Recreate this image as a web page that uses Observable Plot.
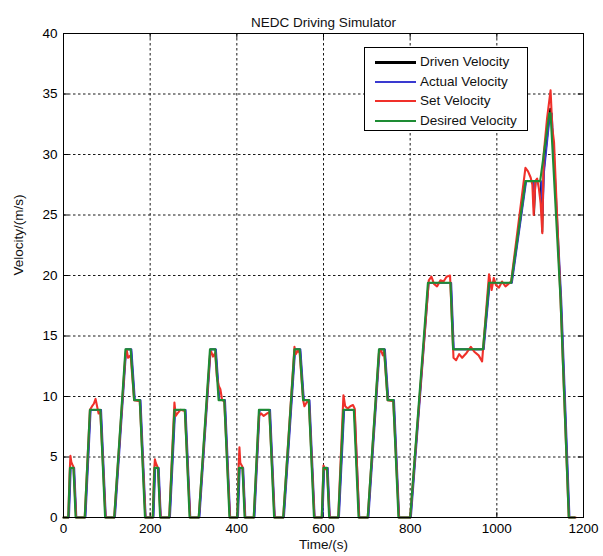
<!DOCTYPE html>
<html>
<head>
<meta charset="utf-8">
<script src="https://cdn.jsdelivr.net/npm/d3@7"></script>
<script src="https://cdn.jsdelivr.net/npm/@observablehq/plot@0.6"></script>
<style>
  body { margin: 0; background: #fff; }
  #wrap { position: relative; width: 603px; height: 556px; font-family: "Liberation Sans", Arial, sans-serif; }
  #legend { position: absolute; left: 364px; top: 47px; width: 162px; height: 82px; border: 1px solid #000; background: #fff; font-size: 13.5px; color: #111; }
  .row { position: absolute; left: 0; height: 19px; width: 100%; }
  .sw { position: absolute; left: 10px; width: 41px; top: 9px; }
  .lb { position: absolute; left: 55px; top: 1px; white-space: nowrap; line-height: 17px; }
</style>
</head>
<body>
<div id="wrap"></div>
<script>
const titleText = "NEDC Driving Simulator";
const xLabel = "Time/(s)";
const yLabel = "Velocity/(m/s)";
const xTicks = [0, 200, 400, 600, 800, 1000, 1200];
const yTicks = [0, 5, 10, 15, 20, 25, 30, 35, 40];
const seriesNames = ["Driven Velocity", "Actual Velocity", "Set Velocity", "Desired Velocity"];
const seriesColors = ["#000000", "#3a3ad0", "#f0302a", "#1e8c34"];

// Desired velocity (green)
const desiredT = [0,11,15,23,28,49,61,85,96,117,143,155,163,176,188,
  206,210,218,223,244,256,280,291,312,338,350,358,371,383,
  401,405,413,418,439,451,475,486,507,533,545,553,566,578,
  596,600,608,613,634,646,670,681,702,728,740,748,761,773,
  800,841,893,899,968,982,1033,1066,1100,1121,1124,1147,1166,1180];
const desiredV = [0,0,4.1,4.1,0,0,8.9,8.9,0,0,13.9,13.9,9.7,9.7,0,
  0,4.1,4.1,0,0,8.9,8.9,0,0,13.9,13.9,9.7,9.7,0,
  0,4.1,4.1,0,0,8.9,8.9,0,0,13.9,13.9,9.7,9.7,0,
  0,4.1,4.1,0,0,8.9,8.9,0,0,13.9,13.9,9.7,9.7,0,
  0,19.4,19.4,13.9,13.9,19.4,19.4,27.8,27.8,33.4,33.4,18.0,0,0];

// Set velocity (red)
const setT = [0,11,14,16,18,20,23,29,49,61,66,70,74,78,81,85,97,117,143,146,149,155,163,176,189,
  206,209,211,213,218,224,244,256,259,263,270,280,292,312,338,341,345,350,354,358,362,366,371,384,
  401,404,406,408,413,419,439,451,456,462,470,475,487,507,533,536,541,545,553,556,561,566,579,
  596,600,603,608,614,634,646,650,656,662,668,672,682,702,728,732,737,740,748,761,774,
  800,843,849,855,862,870,877,884,892,900,906,913,920,930,940,948,958,966,
  982,988,993,998,1005,1012,1020,1033,1066,1072,1078,1082,1085,1089,1093,1097,1101,1105,1108,1116,1124,1128,1132,1147,1166,1182];
const setV = [0,0,3.5,5.1,4.6,4.4,4.2,0,0,8.9,9.2,9.4,9.8,9.1,8.6,8.7,0,0,13.5,13.8,13.2,13.4,9.7,9.6,0,
  0,3.8,4.8,4.5,4.1,0,0,9.5,8.4,8.6,8.9,8.8,0,0,13.4,13.7,13.3,13.6,11.6,10.9,10.6,9.7,9.6,0,
  0,4.0,5.8,4.5,4.2,0,0,8.4,8.6,8.4,8.6,8.7,0,0,14.1,13.5,13.8,13.6,9.7,9.2,9.5,9.7,0,
  0,4.3,4.0,4.0,0,0,10.1,9.2,9.0,9.2,9.3,9.0,0,0,13.6,13.9,13.4,13.7,9.7,9.6,0,
  0,19.6,19.9,19.3,19.1,19.6,19.5,19.9,20.0,13.2,13.0,13.5,13.2,13.6,14.1,13.7,13.4,12.9,
  20.1,18.8,19.8,19.2,19.0,19.5,19.1,19.5,28.9,28.6,28.1,27.5,25.0,27.8,28.0,27.2,26.0,23.5,30.0,33.0,35.3,32.2,31.0,18.0,0,0];

// Actual velocity (blue)
const actualT = [0,13,17,25,30,51,63,87,98,119,145,157,165,178,190,
  208,212,220,225,246,258,282,293,314,340,352,360,373,385,
  403,407,415,420,441,453,477,488,509,535,547,555,568,580,
  598,602,610,615,636,648,672,683,704,730,742,750,763,775,
  802,843,895,901,970,984,1035,1068,1084,1087,1090,1102,1106,1109,1123,1127,1149,1168,1180];
const actualV = [0,0,4.1,4.1,0,0,8.9,8.9,0,0,13.9,13.9,9.7,9.7,0,
  0,4.1,4.1,0,0,8.9,8.9,0,0,13.9,13.9,9.7,9.7,0,
  0,4.1,4.1,0,0,8.9,8.9,0,0,13.9,13.9,9.7,9.7,0,
  0,4.1,4.1,0,0,8.9,8.9,0,0,13.9,13.9,9.7,9.7,0,
  0,19.4,19.4,13.9,13.9,19.4,19.4,27.8,27.8,26.3,27.8,27.8,25.2,28.5,33.4,33.4,18.0,0,0];

// Driven velocity (black)
const drivenT = [0,12,16,24,29,50,62,86,97,118,144,156,164,177,189,
  207,211,219,224,245,257,281,292,313,339,351,359,372,384,
  402,406,414,419,440,452,476,487,508,534,546,554,567,579,
  597,601,609,614,635,647,671,682,703,729,741,749,762,774,
  801,842,894,900,969,983,1034,1067,1083,1086,1089,1101,1105,1108,1123,1126,1148,1167,1180];
const drivenV = [0,0,4.1,4.1,0,0,8.9,8.9,0,0,13.9,13.9,9.7,9.7,0,
  0,4.1,4.1,0,0,8.9,8.9,0,0,13.9,13.9,9.7,9.7,0,
  0,4.1,4.1,0,0,8.9,8.9,0,0,13.9,13.9,9.7,9.7,0,
  0,4.1,4.1,0,0,8.9,8.9,0,0,13.9,13.9,9.7,9.7,0,
  0,19.4,19.4,13.9,13.9,19.4,19.4,27.8,27.8,25.0,27.8,27.8,23.6,28.5,33.8,33.4,18.0,0,0];

const series = [
  {t: drivenT, v: drivenV, w: 1.7},
  {t: actualT, v: actualV, w: 1.7},
  {t: setT, v: setV, w: 2.1},
  {t: desiredT, v: desiredV, w: 2.1}
];

const lineMarks = series.map((s, i) =>
  Plot.line(s.v, {x: s.t, y: s.v, stroke: seriesColors[i], strokeWidth: s.w, strokeLinejoin: "round"})
);

const chart = Plot.plot({
  width: 603,
  height: 556,
  marginLeft: 63,
  marginRight: 20,
  marginTop: 33,
  marginBottom: 39,
  style: {fontFamily: "'Liberation Sans', Arial, sans-serif", fontSize: "13.5px", color: "#000", background: "#fff", overflow: "visible"},
  x: {domain: [0, 1200], ticks: xTicks, tickSize: 0, tickPadding: 6, tickFormat: d => String(d), label: null},
  y: {domain: [0, 40], ticks: yTicks, tickSize: 0, tickPadding: 6, tickFormat: d => String(d), label: null},
  marks: [
    Plot.ruleX(xTicks.slice(1, -1), {stroke: "#000", strokeWidth: 1, strokeDasharray: "2.5,2.5", strokeOpacity: 0.9}),
    Plot.ruleY(yTicks.slice(1, -1), {stroke: "#000", strokeWidth: 1, strokeDasharray: "2.5,2.5", strokeOpacity: 0.9}),
    Plot.ruleX(xTicks, {y1: 0, y2: 0.4, stroke: "#000"}),
    Plot.ruleX(xTicks, {y1: 39.6, y2: 40, stroke: "#000"}),
    Plot.ruleY(yTicks, {x1: 0, x2: 12, stroke: "#000"}),
    Plot.ruleY(yTicks, {x1: 1188, x2: 1200, stroke: "#000"}),
    ...lineMarks,
    Plot.frame({stroke: "#000", strokeWidth: 1}),
    Plot.text([titleText], {frameAnchor: "top", dy: -16, fontSize: 13.5, fill: "#111"}),
    Plot.text([xLabel], {frameAnchor: "bottom", dy: 31, fontSize: 13.5, fill: "#111"}),
    Plot.text([yLabel], {frameAnchor: "left", dx: -45, rotate: -90, fontSize: 13.5, fill: "#111"})
  ]
});

const wrap = document.getElementById("wrap");
wrap.appendChild(chart);

const legend = document.createElement("div");
legend.id = "legend";
const rowTops = [4, 23.5, 43, 62.5];
seriesNames.forEach((name, i) => {
  const row = document.createElement("div");
  row.className = "row";
  row.style.top = rowTops[i] + "px";
  const sw = document.createElement("div");
  sw.className = "sw";
  sw.style.background = seriesColors[i];
  sw.style.height = (i === 0 ? 3 : 2) + "px";
  const lb = document.createElement("div");
  lb.className = "lb";
  lb.textContent = name;
  row.appendChild(sw);
  row.appendChild(lb);
  legend.appendChild(row);
});
wrap.appendChild(legend);
</script>
</body>
</html>
